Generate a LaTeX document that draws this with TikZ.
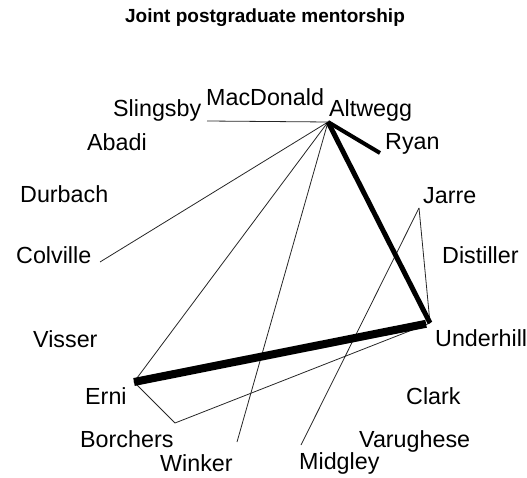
\documentclass[tikz,border=0pt]{standalone}
\usepackage{fontspec}
\setmainfont{Liberation Sans}
\begin{document}
\begin{tikzpicture}[x=1pt,y=-1pt,
  lbl/.style={anchor=base west, inner sep=0pt, font=\fontsize{23.3}{28}\selectfont},
  ttl/.style={anchor=base, inner sep=0pt, font=\fontsize{19}{23}\selectfont\bfseries},
  tie/.style={draw=black!85, line width=0.8pt},
  tieA/.style={draw=black, line width=4pt},
  tieB/.style={draw=black, line width=5pt},
  tieC/.style={draw=black, line width=8pt}]
\useasboundingbox (0,0) rectangle (527,478);
\node[ttl] (title) at (265,23) {Joint postgraduate mentorship};
% labels
\node[lbl] (lSlingsby) at (113,117) {Slingsby};
\node[lbl] (lMacDonald) at (206,106) {MacDonald};
\node[lbl] (lAltwegg) at (329,117) {Altwegg};
\node[lbl] (lRyan) at (385,150) {Ryan};
\node[lbl] (lAbadi) at (87,151) {Abadi};
\node[lbl] (lDurbach) at (20,203) {Durbach};
\node[lbl] (lJarre) at (423,204) {Jarre};
\node[lbl] (lColville) at (16,264) {Colville};
\node[lbl] (lDistiller) at (442,263) {Distiller};
\node[lbl] (lVisser) at (33,347) {Visser};
\node[lbl] (lUnderhill) at (435,346) {Underhill};
\node[lbl] (lErni) at (85,404) {Erni};
\node[lbl] (lClark) at (406,404) {Clark};
\node[lbl] (lBorchers) at (80,447) {Borchers};
\node[lbl] (lVarughese) at (359,447) {Varughese};
\node[lbl] (lWinker) at (160,471) {Winker};
\node[lbl] (lMidgley) at (299,469) {Midgley};
% vertices
\coordinate (Slingsby) at (207,121);
\coordinate (Altwegg) at (328,122);
\coordinate (Ryan) at (380,153);
\coordinate (Jarre) at (419,208);
\coordinate (Colville) at (100,262);
\coordinate (Underhill) at (430,323);
\coordinate (Erni) at (134,382);
\coordinate (Borchers) at (175,423);
\coordinate (Winker) at (237,442);
\coordinate (Midgley) at (301,445);
% ties
\draw[tie] (Slingsby) -- (Altwegg);
\draw[tie] (Altwegg) -- (Colville);
\draw[tie] (Altwegg) -- (Erni);
\draw[tie] (Altwegg) -- (Winker);
\draw[tie] (Erni) -- (Borchers);
\draw[tie] (Borchers) -- (Underhill);
\draw[tie] (Jarre) -- (Underhill);
\draw[tie] (Jarre) -- (Midgley);
\draw[tieA] (Altwegg) -- (Ryan);
\draw[tieB] (Altwegg) -- (Underhill);
\draw[tieC, shorten >=4pt] (Erni) -- (Underhill);
\end{tikzpicture}
\end{document}
